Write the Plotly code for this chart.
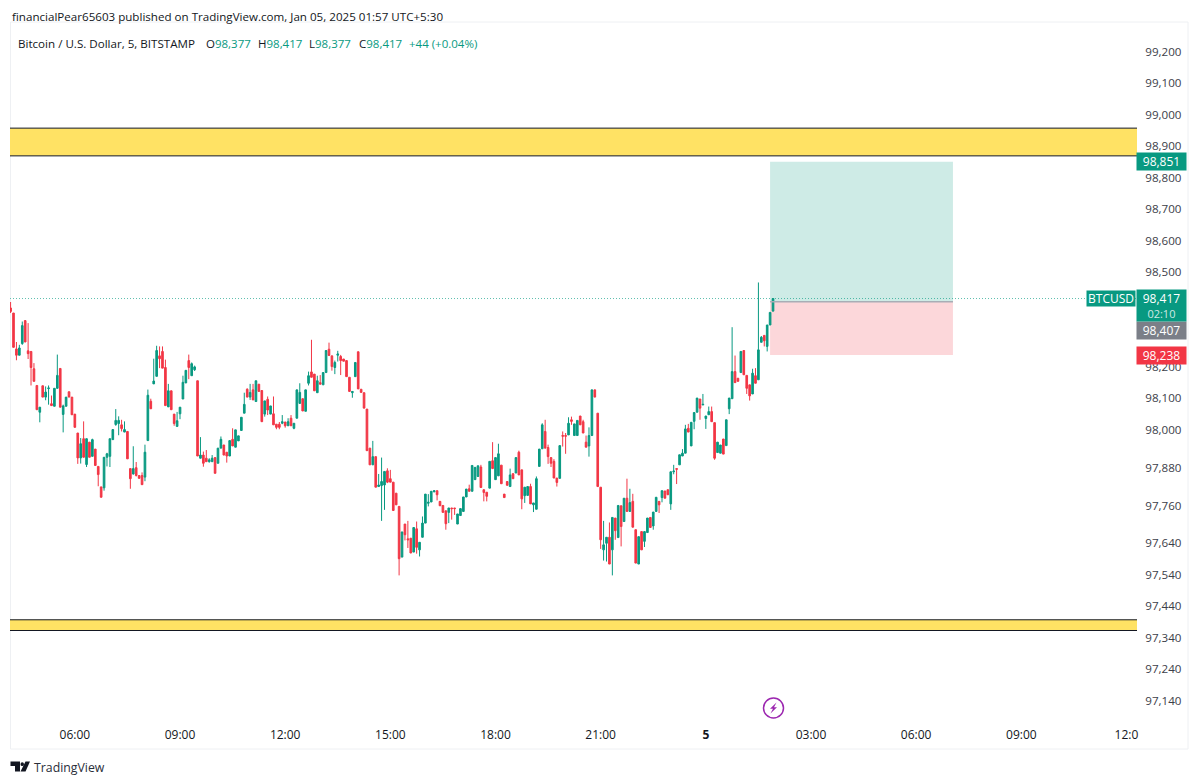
import pandas as pd
import plotly.graph_objects as go

opens = [98387,98371,98257,98237,98274,98347,98251,98249,98194,98141,98056,98140,98104,98131,98083,98075,98132,98195,98049,98075,
98121,98104,98050,97990,97911,97972,97890,97961,97916,97939,97884,97819,97816,97913,97916,97969,98017,98020,98016,97993,
97995,97877,97860,97880,97855,97855,97850,97966,98091,98146,98170,98235,98249,98198,98073,98124,98050,98011,98051,98098,
98149,98220,98172,98191,98156,97910,97920,97910,97899,97899,97912,97894,97942,97952,97929,97917,97970,97945,97965,97998,
98053,98129,98104,98127,98090,98145,98125,98050,98097,98050,98051,98018,98018,98021,98025,98013,98037,98005,98037,98084,
98099,98059,98148,98184,98177,98118,98150,98143,98182,98256,98235,98198,98237,98233,98225,98220,98167,98118,98169,98248,
98129,98118,98066,97942,97889,97915,97820,97823,97825,97870,97845,97834,97799,97757,97596,97701,97654,97656,97612,97686,
97619,97659,97704,97767,97771,97803,97807,97773,97760,97743,97738,97752,97752,97701,97728,97741,97787,97813,97805,97842,
97852,97882,97810,97802,97815,97902,97842,97854,97888,97796,97836,97820,97861,97863,97929,97873,97791,97792,97820,97762,
97748,97884,97940,97995,97944,97912,97900,97847,97846,97982,97982,97984,98032,97982,97982,98044,98026,97961,97949,97982,
98127,98053,97818,97619,97640,97659,97619,97720,97658,97759,97709,97783,97741,97773,97683,97574,97677,97646,97674,97722,
97695,97741,97773,97785,97806,97810,97765,97867,97877,97889,97917,97926,98005,97949,98027,98056,98098,98079,98036,98048,
98058,98023,97928,97926,97971,97950,98067,98099,98185,98164,98182,98252,98173,98143,98114,98172,98159,98278,98300,98265,
98333,98377]
highs = [98406,98371,98279,98270,98344,98347,98339,98249,98212,98141,98072,98140,98138,98141,98109,98132,98239,98195,98080,98104,
98121,98104,98050,97990,97974,98027,97972,97961,97972,97939,97884,97819,97913,97927,97972,98001,98066,98043,98032,98027,
97995,97877,97948,97898,97855,97865,97953,98128,98099,98226,98267,98265,98265,98223,98146,98124,98050,98057,98072,98172,
98189,98239,98214,98204,98156,97977,97931,97936,97910,97920,97912,97942,97979,97952,97929,97966,98005,98000,97981,98040,
98118,98132,98146,98146,98156,98145,98125,98092,98106,98076,98106,98018,98025,98047,98025,98037,98047,98021,98127,98148,
98099,98127,98185,98286,98177,98172,98174,98182,98252,98277,98235,98220,98251,98238,98225,98220,98167,98122,98214,98248,
98129,98118,98066,97942,97965,97915,97860,97912,97868,97878,97873,97834,97799,97757,97676,97701,97711,97656,97690,97709,
97643,97725,97796,97796,97805,97807,97807,97773,97760,97743,97752,97752,97752,97733,97750,97787,97812,97826,97887,97881,
97886,97889,97810,97802,97900,97961,97912,97956,97888,97796,97836,97877,97861,97912,97934,97873,97818,97820,97829,97768,
97852,97939,98021,98032,97953,97912,97907,97847,97950,97995,97990,98040,98042,98019,98030,98044,98032,97982,98008,98127,
98127,98053,97818,97711,97659,97706,97722,97720,97760,97759,97783,97845,97813,97797,97683,97661,97677,97677,97720,97722,
97739,97786,97773,97807,97806,97810,97867,97889,97877,97921,97939,98016,98019,98024,98055,98101,98098,98114,98044,98074,
98074,98023,97961,97952,97971,98032,98101,98326,98236,98164,98249,98252,98173,98143,98194,98196,98468,98298,98300,98333,
98373,98417]
lows = [98371,98262,98221,98237,98270,98279,98225,98141,98154,98064,98024,98104,98094,98080,98077,98075,98131,98072,97992,98075,
98104,98048,98008,97892,97893,97913,97882,97913,97916,97887,97821,97786,97807,97884,97882,97969,98013,97983,97995,97993,
97908,97813,97858,97852,97846,97826,97837,97966,98067,98146,98170,98196,98196,98077,98073,98064,98013,98011,98034,98098,
98149,98161,98172,98187,97917,97910,97883,97899,97896,97899,97862,97894,97942,97920,97896,97917,97949,97945,97965,97998,
98053,98104,98095,98095,98090,98122,98026,98042,98047,98050,98016,98002,98002,98018,98007,98013,98013,98002,98037,98084,
98060,98059,98141,98167,98124,98118,98145,98143,98182,98236,98188,98177,98217,98174,98218,98169,98122,98102,98169,98130,
98119,98069,97934,97889,97889,97818,97820,97711,97746,97831,97834,97744,97762,97538,97596,97649,97625,97609,97612,97607,
97598,97659,97704,97757,97771,97803,97776,97759,97738,97683,97704,97715,97730,97701,97728,97741,97787,97805,97805,97842,
97852,97817,97773,97773,97815,97877,97842,97854,97829,97785,97824,97820,97845,97863,97857,97748,97768,97792,97765,97739,
97748,97884,97940,97942,97892,97882,97847,97820,97846,97947,97924,97984,98016,97982,97982,98016,97990,97945,97915,97982,
98104,97820,97622,97585,97582,97574,97538,97651,97658,97630,97709,97741,97741,97691,97577,97574,97619,97628,97674,97690,
97683,97741,97736,97770,97783,97794,97746,97859,97828,97889,97917,97926,97993,97949,98002,98056,98032,98079,98003,98048,
98026,97905,97928,97926,97923,97950,98050,98099,98150,98154,98182,98175,98114,98093,98114,98148,98159,98278,98265,98249,
98333,98377]
closes = [98376,98262,98237,98260,98331,98279,98242,98198,98154,98064,98072,98104,98120,98133,98077,98132,98173,98072,98076,98104,
98104,98048,98008,97911,97956,97913,97972,97913,97969,97887,97858,97786,97913,97924,97972,98001,98030,98030,98004,98001,
97908,97845,97877,97855,97846,97826,97929,98110,98067,98155,98252,98226,98196,98077,98124,98064,98020,98029,98072,98151,
98189,98198,98210,98200,97917,97920,97894,97899,97905,97910,97862,97942,97970,97920,97917,97966,97949,98000,97981,98040,
98081,98104,98119,98095,98156,98122,98026,98092,98063,98076,98016,98008,98008,98026,98013,98026,98013,98021,98127,98119,
98060,98127,98172,98167,98124,98156,98145,98182,98252,98236,98201,98214,98241,98220,98218,98169,98122,98122,98214,98130,
98119,98069,97934,97889,97915,97818,97825,97836,97868,97834,97834,97744,97762,97591,97676,97667,97651,97609,97690,97627,
97643,97704,97796,97770,97805,97807,97794,97759,97738,97702,97752,97750,97750,97733,97750,97787,97812,97805,97887,97881,
97886,97817,97801,97789,97900,97877,97912,97924,97829,97785,97824,97857,97845,97912,97857,97781,97818,97820,97765,97768,
97845,97939,98016,97942,97915,97894,97847,97833,97950,97980,97980,98021,98027,98019,98030,98016,97990,97945,97982,98127,
98104,97820,97651,97635,97659,97574,97722,97680,97760,97693,97783,97741,97769,97691,97577,97661,97619,97677,97720,97690,
97739,97786,97762,97807,97783,97794,97867,97869,97875,97921,97926,98003,97993,98024,98055,98101,98069,98081,98044,98058,
98026,97910,97961,97952,97923,98032,98101,98185,98150,98154,98249,98175,98132,98108,98180,98148,98254,98294,98283,98333,
98373,98417]

first_bar = "2025-01-04 04:10"
bar_minutes = "5min"
x_tick_times = ["2025-01-04 06:00","2025-01-04 09:00","2025-01-04 12:00","2025-01-04 15:00","2025-01-04 18:00",
                "2025-01-04 21:00","2025-01-05 00:00","2025-01-05 03:00","2025-01-05 06:00","2025-01-05 09:00","2025-01-05 12:00"]
x_tick_text = ["06:00","09:00","12:00","15:00","18:00","21:00","<b>5</b>","03:00","06:00","09:00","12:0"]
y_ticks = [99200,99100,99000,98900,98800,98700,98600,98500,98200,98100,98000,97880,97760,97640,97540,97440,97340,97240,97140]
y_tick_text = [f"{v:,}" for v in y_ticks]

upper_zone = (98870, 98958)
lower_zone = (97363, 97397)
position_start = "2025-01-05 01:50"
position_end = "2025-01-05 07:03"
target_price = 98851
entry_price = 98407
stop_price = 98238
last_price = 98417

GREEN = "#089981"
RED = "#F23645"
FONT = "Open Sans, Noto Sans, sans-serif"

L, R, T, B = 10, 1137, 22, 719
def px(x): return (x - L) / (R - L)
def py(y): return (B - y) / (B - T)
def path(points):
    return "M" + " L".join(f"{px(a):.5f},{py(b):.5f}" for a, b in points) + " Z"

times = pd.date_range(first_bar, periods=len(opens), freq=bar_minutes)

fig = go.Figure(go.Candlestick(
    x=times, open=opens, high=highs, low=lows, close=closes,
    increasing=dict(line=dict(color=GREEN, width=1), fillcolor=GREEN),
    decreasing=dict(line=dict(color=RED, width=1), fillcolor=RED),
    whiskerwidth=0, hoverinfo="skip", showlegend=False,
))

shapes = []
# frame
for (x0, y0, x1, y1) in [(10.5, 22, 10.5, 749), (10.5, 749, 1188, 749), (1188, 22, 1188, 749), (10.5, 22, 1188, 22)]:
    shapes.append(dict(type="line", xref="paper", yref="paper", x0=px(x0), x1=px(x1), y0=py(y0), y1=py(y1),
                       line=dict(color="#eef0f3", width=1), layer="below"))
# zones
for lo, hi in [upper_zone, lower_zone]:
    shapes.append(dict(type="rect", xref="paper", yref="y", x0=0, x1=1, y0=lo, y1=hi,
                       fillcolor="#FFE264", line_width=0, layer="below"))
    for v in (lo, hi):
        shapes.append(dict(type="line", xref="paper", yref="y", x0=0, x1=1, y0=v, y1=v,
                           line=dict(color="#131722", width=1), layer="above"))
# position
shapes.append(dict(type="rect", xref="x", yref="y", x0=position_start, x1=position_end, y0=entry_price, y1=target_price,
                   fillcolor="rgba(8,153,129,0.2)", line_width=0, layer="below"))
shapes.append(dict(type="rect", xref="x", yref="y", x0=position_start, x1=position_end, y0=stop_price, y1=entry_price,
                   fillcolor="rgba(242,54,69,0.2)", line_width=0, layer="below"))
shapes.append(dict(type="line", xref="x", yref="y", x0=position_start, x1=position_end, y0=entry_price, y1=entry_price,
                   line=dict(color="#a8adb5", width=1.5), layer="above"))
# last price line
shapes.append(dict(type="line", xref="paper", yref="y", x0=0, x1=1, y0=last_price, y1=last_price,
                   line=dict(color="#5fbfae", width=1, dash="1px,2px"), layer="below"))
# bolt badge
shapes.append(dict(type="circle", xref="paper", yref="paper", x0=px(763.5), x1=px(783.5), y0=py(718), y1=py(698),
                   line=dict(color="#9C27B0", width=1.5), fillcolor="white", layer="above"))
shapes.append(dict(type="path", xref="paper", yref="paper",
                   path=path([(776.5, 702.5), (770, 708.8), (773, 708.8), (770.5, 713.5), (777, 707.2), (774, 707.2)]),
                   fillcolor="#9C27B0", line_width=0, layer="above"))
# logo
shapes.append(dict(type="path", xref="paper", yref="paper",
                   path=path([(10.5, 761.5), (20, 761.5), (20, 771.5), (15, 771.5), (15, 766), (10.5, 766)]),
                   fillcolor="#131722", line_width=0))
shapes.append(dict(type="circle", xref="paper", yref="paper", x0=px(20.5), x1=px(24), y0=py(766), y1=py(762.3),
                   fillcolor="#131722", line_width=0))
shapes.append(dict(type="path", xref="paper", yref="paper",
                   path=path([(25.5, 761.5), (30, 761.5), (25.5, 771.5), (20.5, 771.5)]),
                   fillcolor="#131722", line_width=0))

def note(text, x, y, xanchor="left", size=12, color="#131722", xref="paper", yref="paper", **kw):
    return dict(text=text, x=x, y=y, xref=xref, yref=yref, xanchor=xanchor, yanchor="middle", showarrow=False,
                font=dict(family=FONT, size=size, color=color), **kw)

def g(s): return f'<span style="color:{GREEN}">{s}</span>'

def price_tag(text, price, bg, shift=0, h=15):
    return note(text, px(1161.5), price, xanchor="center", color="white", yref="y", bgcolor=bg,
                width=47, height=h, borderpad=1, yshift=shift, align="center")

annotations = [
    note("financialPear65603 published on TradingView.com, Jan 05, 2025 01:57 UTC+5:30", px(10), py(16), size=11.6),
    note("Bitcoin / U.S. Dollar, 5, BITSTAMP", px(16), py(43), size=11.6),
    note(f"O{g('98,377')}", px(204), py(43), size=11.5),
    note(f"H{g('98,417')}", px(256), py(43), size=11.5),
    note(f"L{g('98,377')}", px(307), py(43), size=11.5),
    note(f"C{g('98,417')}", px(357), py(43), size=11.5),
    note(g("+44 (+0.04%)"), px(407), py(43), size=11.5),
    note("TradingView", px(32), py(767), size=12.3, color="#2a2e39"),
    price_tag(f"{target_price:,}", target_price, GREEN),
    price_tag(f"{entry_price:,}", entry_price, "#7b7f88", shift=-29),
    price_tag(f"{stop_price:,}", stop_price, RED, shift=-1),
    price_tag(f"{last_price:,}<br><span style='font-size:11px;color:#cfe9e4'>02:10</span>", last_price, GREEN, shift=-7, h=29),
    note("BTCUSD", px(1111), last_price, xanchor="center", color="white", yref="y", bgcolor=GREEN,
         width=46, height=13, borderpad=1),
]

fig.update_layout(
    width=1200, height=784, margin=dict(l=L, r=1200 - R, t=T, b=784 - B),
    paper_bgcolor="white", plot_bgcolor="white",
    font=dict(family=FONT, size=12, color="#131722"),
    boxgap=0.2, shapes=shapes, annotations=annotations, dragmode=False,
    xaxis=dict(range=["2025-01-04 04:09", "2025-01-05 12:18"], type="date", rangeslider_visible=False,
               showgrid=False, zeroline=False, showline=False, tickmode="array",
               tickvals=x_tick_times, ticktext=x_tick_text, ticks="outside", ticklen=5, tickcolor="white",
               tickfont=dict(family=FONT, size=12, color="#131722")),
    yaxis=dict(range=[97082, 99295], side="right", showgrid=False, zeroline=False, showline=False,
               tickmode="array", tickvals=y_ticks, ticktext=y_tick_text, ticks="outside", ticklen=5, tickcolor="white",
               tickfont=dict(family=FONT, size=11.6, color="#3c4049")),
)

fig.write_html("out.html", config=dict(displayModeBar=False, staticPlot=True),
               post_script="document.body.style.margin='0';")
